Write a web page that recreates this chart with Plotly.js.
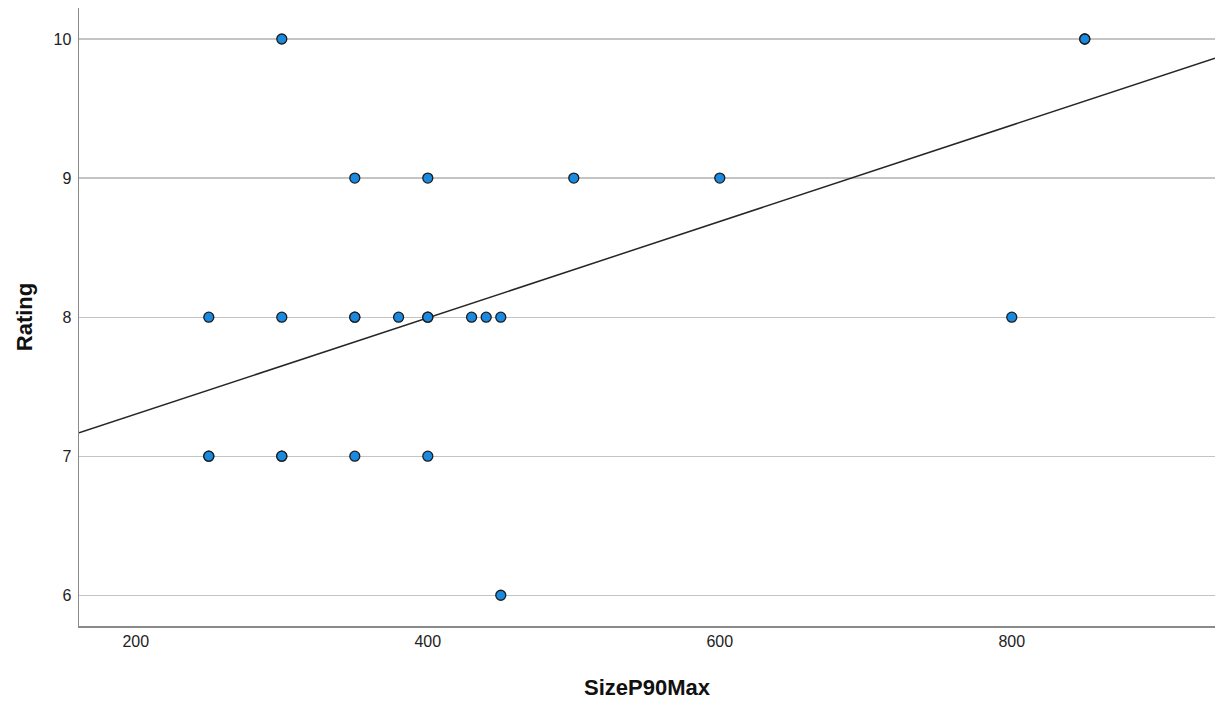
<!DOCTYPE html>
<html>
<head>
<meta charset="utf-8">
<script src="https://cdn.plot.ly/plotly-3.0.1.min.js"></script>
<style>html,body{margin:0;padding:0;background:#fff;}#chart{width:1219px;height:702px;}</style>
</head>
<body>
<div id="chart"></div>
<script>
// Data (SizeP90Max vs Rating)
var sizeP90Max = [300, 850, 850, 350, 400, 500, 600, 250, 300, 350, 350, 380, 400, 400, 430, 440, 450, 800, 250, 250, 300, 300, 350, 400, 450];
var rating     = [10,  10,  10,  9,   9,   9,   9,   8,   8,   8,   8,   8,   8,   8,   8,   8,   8,   8,   7,   7,   7,   7,   7,   7,   6];
// Fit line: Rating = intercept + slope * SizeP90Max
var fitIntercept = 6.61;
var fitSlope = 0.003463;
var xRange = [161.1, 939.2];
var yRange = [5.779, 10.223];
var xTicks = [200, 400, 600, 800];
var yTicks = [6, 7, 8, 9, 10];

var fitX = xRange.slice();
var fitY = fitX.map(function (x) { return fitIntercept + fitSlope * x; });

var traces = [
  {
    x: fitX, y: fitY, type: 'scatter', mode: 'lines',
    line: {color: '#262626', width: 1.5}, hoverinfo: 'skip', showlegend: false
  },
  {
    x: sizeP90Max, y: rating, type: 'scatter', mode: 'markers',
    marker: {size: 10, color: '#1a8ae0', line: {color: '#1c1c1c', width: 1.3}},
    showlegend: false
  }
];

var layout = {
  width: 1219, height: 702,
  margin: {l: 79, r: 4, t: 8, b: 76},
  paper_bgcolor: '#ffffff', plot_bgcolor: '#ffffff',
  font: {family: '"Liberation Sans", Arial, sans-serif', size: 16, color: '#222'},
  xaxis: {
    range: xRange, tickvals: xTicks, ticktext: xTicks.map(String),
    showgrid: false, zeroline: false, ticks: '',
    showline: true, linecolor: '#8a8a8a', linewidth: 1.5,
    tickfont: {size: 16, color: '#222'},
    title: {text: 'SizeP90Max', font: {size: 22, weight: 'bold', color: '#111'}, standoff: 31}
  },
  yaxis: {
    range: yRange, tickvals: yTicks, ticktext: yTicks.map(String),
    showgrid: true, gridcolor: '#c4c4c4', gridwidth: 1.2, zeroline: false, ticks: '',
    showline: true, linecolor: '#8a8a8a', linewidth: 1.5,
    tickfont: {size: 16, color: '#222'}, ticklabelstandoff: 3,
    title: {text: 'Rating', font: {size: 22, weight: 'bold', color: '#111'}, standoff: 15}
  }
};

Plotly.newPlot('chart', traces, layout, {displayModeBar: false, staticPlot: true});
</script>
</body>
</html>
